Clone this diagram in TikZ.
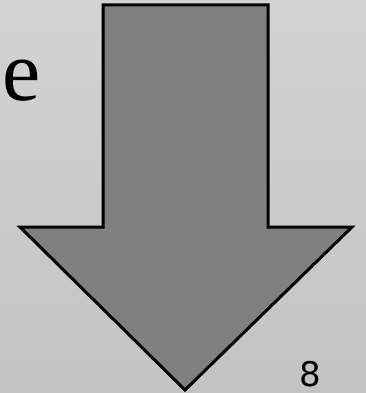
\documentclass[tikz,border=0pt]{standalone}
\usepackage{fontspec}
\setmainfont{Liberation Serif}
\newfontfamily\numfont{DejaVu Sans}
\definecolor{bgtop}{HTML}{D3D3D3}
\definecolor{bgbot}{HTML}{C3C3C3}
\definecolor{arrowfill}{HTML}{808080}
\tikzset{
  bigarrow/.style={draw=black, fill=arrowfill, line width=3pt, line join=miter},
  bigletter/.style={inner sep=0pt, font=\fontsize{86}{90}\selectfont},
  pagenum/.style={inner sep=0pt, font=\numfont\fontsize{34}{40}\selectfont}
}
\begin{document}
\begin{tikzpicture}[x=1pt, y=-1pt]
\useasboundingbox (0,0) rectangle (366,393);
\shade[top color=bgtop, bottom color=bgbot] (0,0) rectangle (366,393);
\begin{scope}
\clip (0,0) rectangle (366,393);
\draw[bigarrow] (103,5) -- (268,5) -- (268,227) -- (352,227) -- (185,390) -- (20,227) -- (103,227) -- cycle;
\end{scope}
\node[bigletter, anchor=base west] (e) at (2,101) {e};
\node[pagenum, anchor=base west] (num) at (299,386) {8};
\end{tikzpicture}
\end{document}
